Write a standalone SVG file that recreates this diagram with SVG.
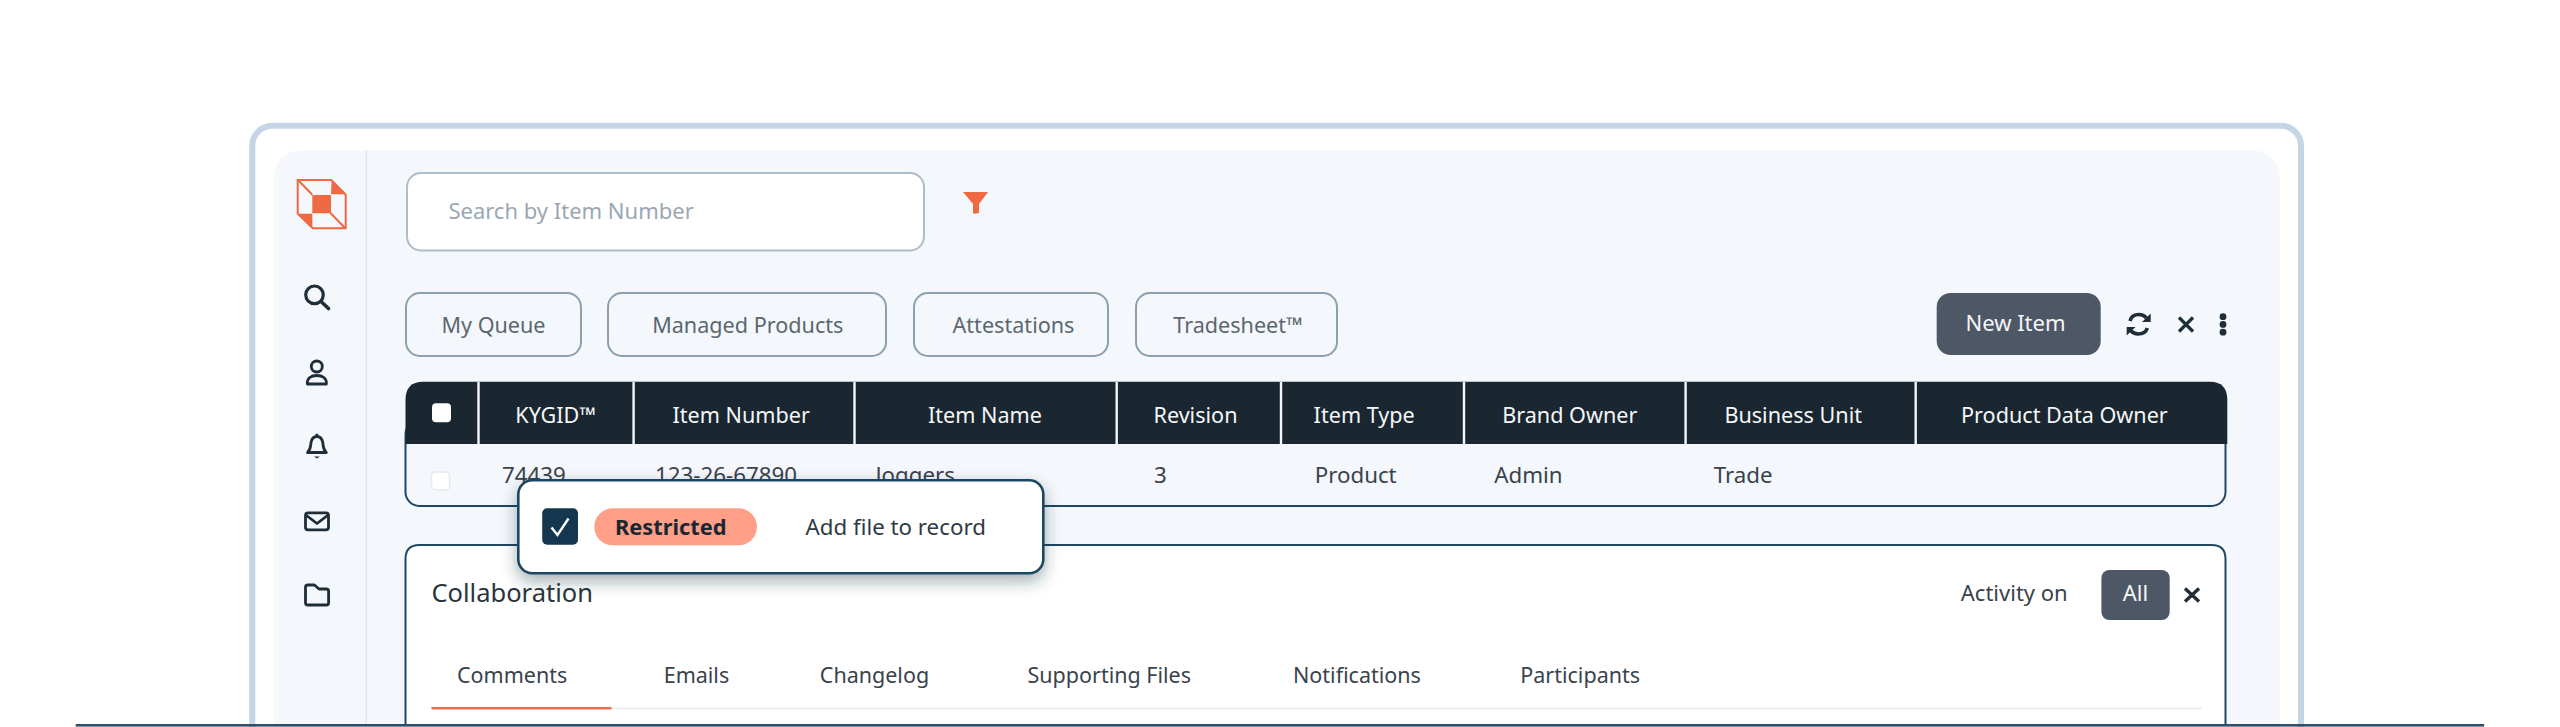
<svg xmlns="http://www.w3.org/2000/svg" width="2560" height="727" viewBox="0 0 2560 727">
<style>
text{font-family:"Noto Sans","Open Sans","Liberation Sans",sans-serif;font-size:22px;fill:#39434c}
.hd{fill:#f4f6f8;text-anchor:middle;font-size:21.600px}
.tab{fill:#5b6770;text-anchor:middle;font-size:21.600px}
.row{font-size:22.300px}
.sub{font-size:21.500px}
.chipf{fill:#f4f7fb;stroke:#8ca0ae;stroke-width:2}
.dv{stroke:#f4f7fb;stroke-width:2.400}
.ic{fill:none;stroke:#1f2d38;stroke-width:2.800;stroke-linecap:round;stroke-linejoin:round}
.bl{fill:#4e5766}
</style>
<defs>
<filter id="sh" x="-10%" y="-40%" width="120%" height="200%"><feDropShadow dx="0" dy="7" stdDeviation="8" flood-color="#1f2d38" flood-opacity=".38"/></filter>
</defs>
<rect width="2560" height="727" fill="#fff"/>
<g id="frame">
<rect x="252.300" y="125.700" width="2048.700" height="640" rx="20" fill="#fff" stroke="#c5d5e6" stroke-width="6"/>
</g>
<g id="panel">
<rect x="274" y="150.500" width="2006" height="600" rx="26" fill="#f8f8f9"/>
<rect x="278" y="150.500" width="1998.700" height="600" rx="24" fill="#f4f7fb"/>
<rect x="365.500" y="150.500" width="1.600" height="575" fill="#e3e7ea"/>
</g>
<g id="logo">
<path d="M296.700 179H331.700L346.700 194.300V229.300H312.300L296.700 214Z M298.700 181V213.200L313.100 227.300H344.700V195.100L330.900 181Z" fill="#ef6a42" fill-rule="evenodd"/>
<path d="M298 180L312.300 194.800M330.500 213L345.500 228.500" stroke="#ef6a42" stroke-width="2" fill="none"/>
<path d="M312.300 195H331V213.300H312.300Z M331.700 179.500L346.200 194.300H331Z M297.500 213.800H312.300V228.500Z" fill="#ef6a42"/>
</g>
<g id="nav-icons">
<g id="nav-search"><circle cx="314.500" cy="294.800" r="8.800" class="ic" style="stroke-width:3.200"/><path d="M321 301.500L328.500 308.500" class="ic" style="stroke-width:3.600"/></g>
<g id="nav-person"><circle cx="316.800" cy="366.500" r="5.500" class="ic"/><path d="M307.300 384H326.400C326.800 378 322.500 375.500 316.800 375.500S306.900 378 307.300 384Z" class="ic"/></g>
<g id="nav-bell"><path d="M307.500 452.500H326.300C322.500 449 323.300 445 322.800 442.500C322 438.500 319.500 436.500 316.900 436.500S311.800 438.500 311 442.500C310.500 445 311.300 449 307.500 452.500Z" class="ic"/><circle cx="316.900" cy="435" r="1.500" fill="#1f2d38"/><path d="M314 456.500H319.800L316.900 458.500Z" fill="#1f2d38"/></g>
<g id="nav-mail"><rect x="305.500" y="512.800" width="23" height="17" rx="2.500" class="ic"/><path d="M306.500 515.500L317 523.500L327.500 515.500" class="ic"/></g>
<g id="nav-folder"><path d="M305.500 587.300C305.500 585.800 306.300 585 307.800 585H314.500L319 589H326.300C327.800 589 328.600 589.800 328.600 591.300V602.700C328.600 604.200 327.800 605 326.300 605H307.800C306.300 605 305.500 604.200 305.500 602.700Z" class="ic"/></g>
</g>
<g id="search">
<rect x="407" y="173" width="517" height="77.500" rx="14" fill="#fff" stroke="#aebdc9" stroke-width="2"/>
<text x="448.400" y="218.500" style="fill:#9aa7b3">Search by Item Number</text>
<path d="M963 192H988L979 204V213L974.500 213.700C973.500 213.700 973 213 973 212.500V204Z" fill="#ef6a42"/>
</g>
<g id="tab-queue"><rect x="406" y="293" width="175" height="63" rx="14" class="chipf"/><text x="493.500" y="333" class="tab">My Queue</text></g>
<g id="tab-managed"><rect x="608" y="293" width="278" height="63" rx="14" class="chipf"/><text x="747.800" y="333" class="tab">Managed Products</text></g>
<g id="tab-attest"><rect x="914" y="293" width="194" height="63" rx="14" class="chipf"/><text x="1013.500" y="333" class="tab">Attestations</text></g>
<g id="tab-trade"><rect x="1136" y="293" width="201" height="63" rx="14" class="chipf"/><text x="1238" y="333" class="tab">Tradesheet™</text></g>
<g id="new-item"><rect x="1936.700" y="293" width="164" height="62" rx="14" class="bl"/><text x="2015.500" y="330.500" class="hd" style="font-size:22px">New Item</text></g>
<g id="toolbar-icons">
<path d="M2130 321C2131 316.500 2135 314.500 2139 314.500C2142.500 314.500 2144.800 316 2146.500 318M2147.300 328C2146 332.500 2142 334 2138 334C2134.500 334 2132.300 332.500 2130.500 330.500" fill="none" stroke="#1f2d38" stroke-width="3.600"/>
<path d="M2150.700 313.500V322H2142Z M2126.700 335.500V327H2135.500Z" fill="#1f2d38"/>
<path d="M2179 317.500L2193 331.500M2193 317.500L2179 331.500" stroke="#1f2d38" stroke-width="3.200" fill="none"/>
<circle cx="2223" cy="316.700" r="3.400" fill="#1f2d38"/><circle cx="2223" cy="324.400" r="3.400" fill="#1f2d38"/><circle cx="2223" cy="332.200" r="3.400" fill="#1f2d38"/>
</g>
<g id="table">
<rect x="405.500" y="420" width="1820" height="86" rx="14" fill="#f4f7fb" stroke="#1f4663" stroke-width="2"/>
<path d="M405.500 444V400Q405.500 381.700 423 381.700H2210Q2227.300 381.700 2227.300 400V444Z" fill="#1a2630"/>
<path d="M478.500 382V444M633.600 382V444M854.500 382V444M1116.700 382V444M1281 382V444M1464 382V444M1685.600 382V444M1915.700 382V444" class="dv"/>
<rect x="432" y="403.300" width="19" height="19" rx="4" fill="#fff"/>
<text x="555.700" y="422.700" class="hd">KYGID™</text>
<text x="741.200" y="422.700" class="hd">Item Number</text>
<text x="985" y="422.700" class="hd">Item Name</text>
<text x="1195.500" y="422.700" class="hd">Revision</text>
<text x="1364.200" y="422.700" class="hd">Item Type</text>
<text x="1569.800" y="422.700" class="hd">Brand Owner</text>
<text x="1793.200" y="422.700" class="hd">Business Unit</text>
<text x="2064.400" y="422.700" class="hd">Product Data Owner</text>
<rect x="431.500" y="472" width="18" height="18" rx="4" fill="#fff" stroke="#e7e9ec" stroke-width="1.500"/>
<text x="502" y="482.700" class="row">74439</text>
<text x="655" y="482.700" class="row">123-26-67890</text>
<text x="875.400" y="482.700" class="row">Joggers</text>
<text x="1154" y="482.700" class="row">3</text>
<text x="1314.700" y="482.700" class="row">Product</text>
<text x="1494.300" y="482.700" class="row">Admin</text>
<text x="1713.700" y="482.700" class="row">Trade</text>
</g>
<g id="collaboration">
<path d="M405.500 725V559Q405.500 545 419.500 545H2211.500Q2225.500 545 2225.500 559V725Z" fill="#fff" stroke="#1f4663" stroke-width="2"/>
<text x="431.500" y="601.700" style="font-size:25.500px;fill:#2a343c">Collaboration</text>
<text x="1960.800" y="601">Activity on</text>
<rect x="2101.400" y="570" width="68.300" height="50" rx="8" class="bl"/>
<text x="2135.500" y="601" class="hd" style="font-size:22px">All</text>
<path d="M2185 588.500L2199 601.500M2199 588.500L2185 601.500" stroke="#1f2d38" stroke-width="3.400" fill="none"/>
<text x="457" y="682.700" class="sub">Comments</text>
<text x="663.700" y="682.700" class="sub">Emails</text>
<text x="819.800" y="682.700" class="sub">Changelog</text>
<text x="1027.500" y="682.700" class="sub">Supporting Files</text>
<text x="1293" y="682.700" class="sub">Notifications</text>
<text x="1520.300" y="682.700" class="sub">Participants</text>
<rect x="431.500" y="707.500" width="1770" height="2" fill="#eeeff3"/>
<rect x="431.500" y="707" width="180" height="2.400" fill="#f0694a"/>
</g>
<g id="popup">
<rect x="518.300" y="480.300" width="525" height="93" rx="14" fill="#fff" stroke="#1f4663" stroke-width="2.600" filter="url(#sh)"/>
<rect x="542.200" y="508.300" width="35.800" height="36.400" rx="5" fill="#14364f"/>
<path d="M551.500 527.500L557.500 535L568.500 518.500" fill="none" stroke="#fff" stroke-width="2.400"/>
<rect x="594.300" y="508.300" width="162.700" height="37" rx="18.500" fill="#ff9f88"/>
<text x="670.800" y="535" style="font-weight:700;text-anchor:middle;fill:#1a2630;font-size:21.800px">Restricted</text>
<text x="805.500" y="535" style="fill:#2f3a43;font-size:22.300px">Add file to record</text>
</g>
<rect id="baseline" x="75.700" y="724" width="2408.500" height="2.600" fill="#2f4f68"/>
</svg>
